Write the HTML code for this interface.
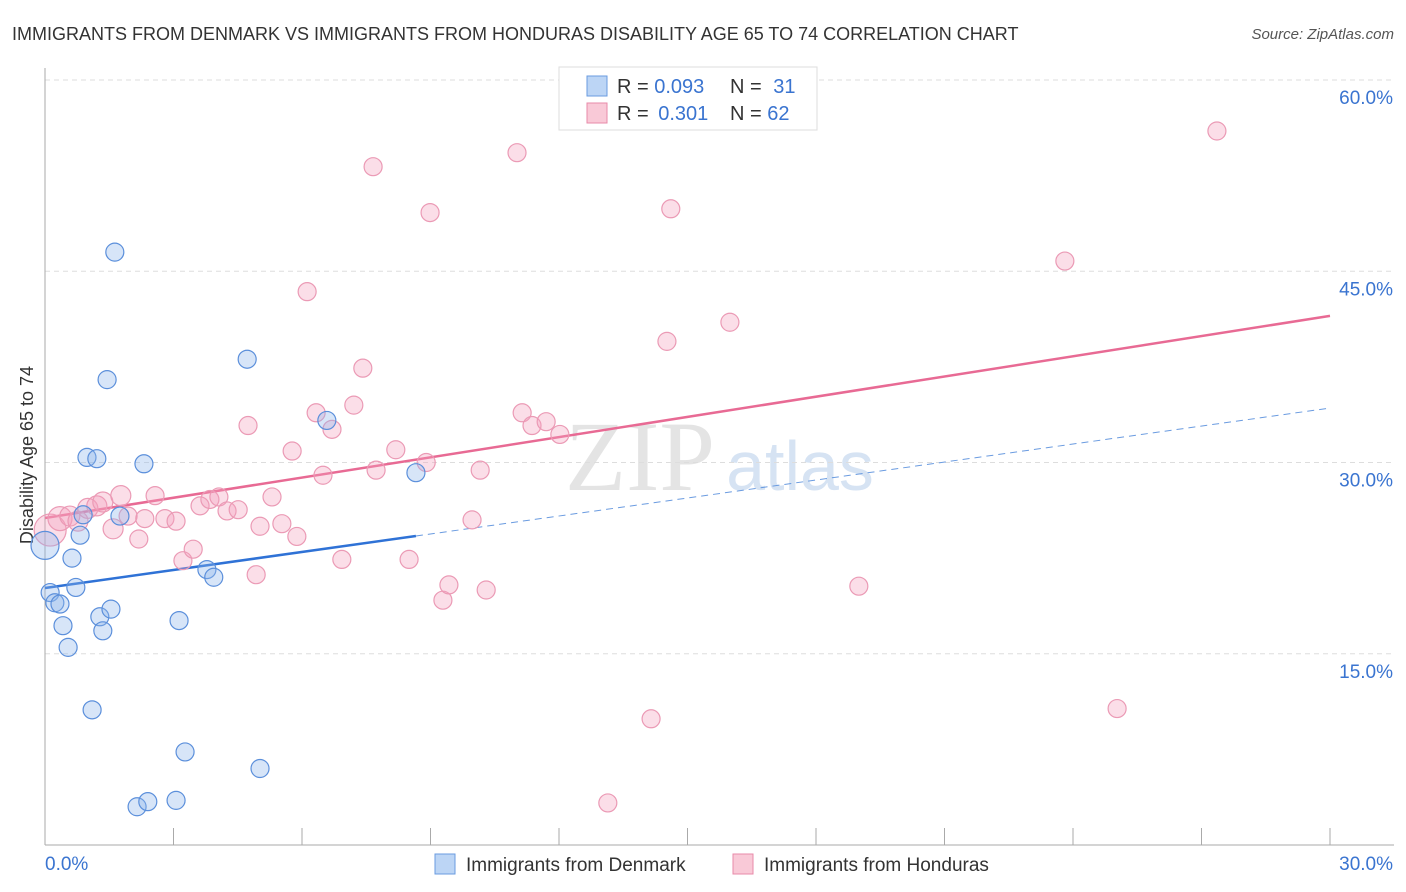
<!DOCTYPE html>
<html><head><meta charset="utf-8">
<style>
body{margin:0;background:#fff;font-family:"Liberation Sans",sans-serif;}
#wrap{position:relative;width:1406px;height:892px;overflow:hidden;}
</style></head>
<body>
<div id="wrap">
<svg id="chart" width="1406" height="892" xmlns="http://www.w3.org/2000/svg">
<text x="12" y="40" font-size="18" fill="#333">IMMIGRANTS FROM DENMARK VS IMMIGRANTS FROM HONDURAS DISABILITY AGE 65 TO 74 CORRELATION CHART</text>
<text x="1394" y="39" font-size="15" fill="#555" font-style="italic" text-anchor="end">Source: ZipAtlas.com</text>
<text x="640" y="490" font-size="100" fill="#e4e4e4" font-family="Liberation Serif,serif" text-anchor="middle">ZIP</text>
<text x="800" y="490" font-size="70" fill="#d6e3f3" text-anchor="middle">atlas</text>
<text transform="translate(33,455) rotate(-90)" font-size="18" fill="#333" text-anchor="middle">Disability Age 65 to 74</text>
<g id="grid"></g><g id="ticks"></g><g id="lines"></g><g id="pts"></g>
<g>
<rect x="559" y="67" width="258" height="63" fill="#fff" stroke="#ddd"/>
<rect x="587" y="76" width="20" height="20" fill="#bcd5f5" stroke="#6a9be0"/>
<rect x="587" y="103" width="20" height="20" fill="#f9c9d7" stroke="#e88aa8"/>
<text x="617" y="93" font-size="20" fill="#333">R = <tspan fill="#3a74d0">0.093</tspan></text>
<text x="730" y="93" font-size="20" fill="#333">N = <tspan fill="#3a74d0" dx="6">31</tspan></text>
<text x="617" y="120" font-size="20" fill="#333">R = <tspan fill="#3a74d0" dx="4">0.301</tspan></text>
<text x="730" y="120" font-size="20" fill="#333">N = <tspan fill="#3a74d0">62</tspan></text>
</g>
<g>
<rect x="435" y="854" width="20" height="20" fill="#bcd5f5" stroke="#6a9be0"/>
<text x="466" y="871" font-size="19" fill="#333">Immigrants from Denmark</text>
<rect x="733" y="854" width="20" height="20" fill="#f9c9d7" stroke="#e88aa8"/>
<text x="764" y="871" font-size="19" fill="#333">Immigrants from Honduras</text>
</g>
</svg>
</div>
<script>
const yTicks=[15,30,45,60];
const yTickLabels=["15.0%","30.0%","45.0%","60.0%"];
const xTickVals=[0,3,6,9,12,15,18,21,24,27,30];
const denmarkX=[0,0.12,0.23,0.35,0.42,0.54,0.63,0.72,0.82,0.89,0.98,1.1,1.21,1.28,1.35,1.45,1.54,1.63,1.75,2.15,2.31,2.4,3.06,3.13,3.27,3.78,3.94,4.72,5.02,6.58,8.66];
const denmarkY=[23.5,19.8,19.0,18.9,17.2,15.5,22.5,20.2,24.3,25.9,30.4,10.6,30.3,17.9,16.8,36.5,18.5,46.5,25.8,3.0,29.9,3.4,3.5,17.6,7.3,21.6,21.0,38.1,6.0,33.3,29.2];
const denmarkR=[14,9,9,9,9,9,9,9,9,9,9,9,9,9,9,9,9,9,9,9,9,9,9,9,9,9,9,9,9,9,9];
const hondurasX=[0.12,0.35,0.58,0.77,1.0,1.21,1.35,1.59,1.77,1.94,2.19,2.33,2.57,2.8,3.06,3.22,3.46,3.62,3.85,4.06,4.25,4.51,4.74,4.93,5.02,5.3,5.53,5.77,5.88,6.12,6.33,6.49,6.7,6.93,7.21,7.42,7.66,7.73,8.19,8.5,8.9,8.99,9.29,9.43,9.97,10.16,10.3,11.02,11.14,11.37,11.7,12.02,13.14,14.15,14.52,14.61,15.99,19.0,23.81,25.03,27.36];
const hondurasY=[24.7,25.6,25.8,25.4,26.4,26.6,26.9,24.8,27.4,25.8,24.0,25.6,27.4,25.6,25.4,22.3,23.2,26.6,27.1,27.3,26.2,26.3,32.9,21.2,25.0,27.3,25.2,30.9,24.2,43.4,33.9,29.0,32.6,22.4,34.5,37.4,53.2,29.4,31.0,22.4,30.0,49.6,19.2,20.4,25.5,29.4,20.0,54.3,33.9,32.9,33.2,32.2,3.3,9.9,39.5,49.9,41.0,20.3,45.8,10.7,56.0];
const hondurasR=[16,12,10,10,10,10,10,10,10,9,9,9,9,9,9,9,9,9,9,9,9,9,9,9,9,9,9,9,9,9,9,9,9,9,9,9,9,9,9,9,9,9,9,9,9,9,9,9,9,9,9,9,9,9,9,9,9,9,9,9,9];
const denmarkTrend=[20.16,34.27];
const hondurasTrend=[25.65,41.5];
const NS="http://www.w3.org/2000/svg";
const X0=45,X1=1330,Y0=845,YMAX=60,YTOP=80;
const xs=v=>X0+(X1-X0)*v/30;
const ys=v=>Y0-(Y0-YTOP)*v/YMAX;
function mk(tag,attrs,parent){const e=document.createElementNS(NS,tag);for(const k in attrs)e.setAttribute(k,attrs[k]);document.getElementById(parent).appendChild(e);return e;}
yTicks.forEach((v,i)=>{
 const l=mk('line',{x1:X0,x2:1394,y1:ys(v),y2:ys(v),stroke:'#ddd','stroke-dasharray':'5,4'},'grid');
 
 
 const t=mk('text',{x:1393,y:ys(v)+24,'font-size':19,fill:'#3a74d0','text-anchor':'end'},'grid');
 t.textContent=yTickLabels[i];
 
 
});
const ax=mk('line',{x1:X0,x2:X0,y1:68,y2:Y0,stroke:'#aaa'},'ticks');


const bx=mk('line',{x1:X0,x2:1394,y1:Y0,y2:Y0,stroke:'#aaa'},'ticks');


xTickVals.forEach(v=>{
 const t=mk('line',{x1:xs(v),x2:xs(v),y1:828,y2:Y0,stroke:'#aaa'},'ticks');
 
 
});
const xl0=mk('text',{x:45,y:870,'font-size':19,fill:'#3a74d0'},'ticks');xl0.textContent='0.0%';


const xl1=mk('text',{x:1393,y:870,'font-size':19,fill:'#3a74d0','text-anchor':'end'},'ticks');xl1.textContent='30.0%';


function pts(X,Y,R,fill,stroke,name){X.forEach((x,i)=>{
 const c=mk('circle',{cx:xs(x),cy:ys(Y[i]),r:R[i],fill:fill,stroke:stroke,'stroke-width':1.2},'pts');
 
 
});}
pts(hondurasX,hondurasY,hondurasR,'rgba(244,160,188,0.35)','#eb9ab5','honduras-point');
pts(denmarkX,denmarkY,denmarkR,'rgba(140,180,235,0.35)','#5b8fdb','denmark-point');
const at=(t,x)=>t[0]+(t[1]-t[0])*x/30;
const xEnd=Math.max(...denmarkX);
let l1=mk('line',{x1:xs(0),y1:ys(at(denmarkTrend,0)),x2:xs(xEnd),y2:ys(at(denmarkTrend,xEnd)),stroke:'#2f72d6','stroke-width':2.5},'lines');


let l2=mk('line',{x1:xs(xEnd),y1:ys(at(denmarkTrend,xEnd)),x2:xs(30),y2:ys(at(denmarkTrend,30)),stroke:'#6a9be0','stroke-width':1,'stroke-dasharray':'7,5'},'lines');


let l3=mk('line',{x1:xs(0),y1:ys(at(hondurasTrend,0)),x2:xs(30),y2:ys(at(hondurasTrend,30)),stroke:'#e86a94','stroke-width':2.5},'lines');


</script>
</body></html>
